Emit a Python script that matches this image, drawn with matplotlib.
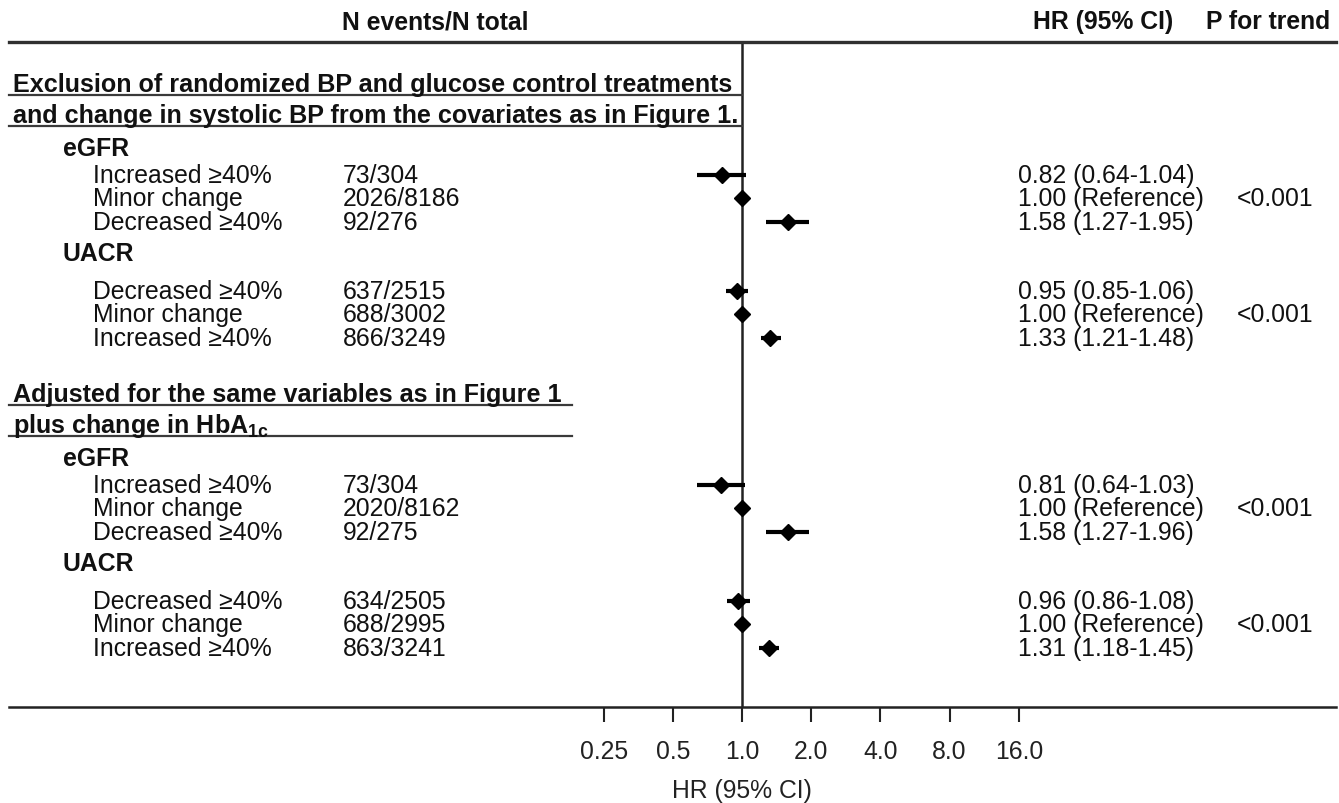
import matplotlib
matplotlib.use("Agg")
import matplotlib.pyplot as plt
from matplotlib.transforms import blended_transform_factory

plt.rcParams['font.family'] = ['Liberation Sans', 'DejaVu Sans']
plt.rcParams['mathtext.fontset'] = 'custom'
plt.rcParams['mathtext.rm'] = 'Liberation Sans'
plt.rcParams['mathtext.bf'] = 'Liberation Sans:bold'

# ---- data ----
section_titles = [
    ["Exclusion of randomized BP and glucose control treatments",
     "and change in systolic BP from the covariates as in Figure 1."],
    ["Adjusted for the same variables as in Figure 1",
     r"plus change in HbA$_{\mathbf{1c}}$"],
]
group_names = ["eGFR", "UACR"]
row_labels = [["Increased \u226540%", "Minor change", "Decreased \u226540%"],
              ["Decreased \u226540%", "Minor change", "Increased \u226540%"]]
counts = [
    [["73/304", "2026/8186", "92/276"], ["637/2515", "688/3002", "866/3249"]],
    [["73/304", "2020/8162", "92/275"], ["634/2505", "688/2995", "863/3241"]],
]
hr = [
    [[0.82, 1.00, 1.58], [0.95, 1.00, 1.33]],
    [[0.81, 1.00, 1.58], [0.96, 1.00, 1.31]],
]
ci_lo = [
    [[0.64, None, 1.27], [0.85, None, 1.21]],
    [[0.64, None, 1.27], [0.86, None, 1.18]],
]
ci_hi = [
    [[1.04, None, 1.95], [1.06, None, 1.48]],
    [[1.03, None, 1.96], [1.08, None, 1.45]],
]
p_trend = [["<0.001", "<0.001"], ["<0.001", "<0.001"]]
xticks = [0.25, 0.5, 1.0, 2.0, 4.0, 8.0, 16.0]
xtick_labels = ["0.25", "0.5", "1.0", "2.0", "4.0", "8.0", "16.0"]

# ---- layout (pixels from top-left) ----
W, H = 1339, 804
block_top = [83, 393]
underline_end = [742, 572]
title_dy = [0, 31]
group_dy = [64, 169]
first_row_dy = [91, 207]
row_step = 23.3
px_per_doubling = 69.2
x_ref = 742
fs = 17.8
ink = '#111111'

fig = plt.figure(figsize=(W / 100, H / 100), dpi=100)
ax = fig.add_axes([9 / W, 1 - 708 / H, (1336 - 9) / W, (708 - 43) / H])
ax.set_xscale('log', base=2)
ax.set_xlim(2 ** ((9 - x_ref) / px_per_doubling), 2 ** ((1336 - x_ref) / px_per_doubling))
ax.set_ylim(708, 43)
for s in ['left', 'right']:
    ax.spines[s].set_visible(False)
ax.spines['top'].set_linewidth(2.4)
ax.spines['top'].set_color('#303030')
ax.spines['bottom'].set_linewidth(1.8)
ax.spines['bottom'].set_color('#222222')
ax.set_yticks([])
ax.set_xticks(xticks)
ax.set_xticklabels(xtick_labels)
ax.xaxis.set_minor_locator(matplotlib.ticker.NullLocator())
ax.tick_params(axis='x', direction='out', length=11, width=1.5, pad=12,
               labelsize=fs, colors='#222222')
ax.axvline(1.0, color='#222222', lw=1.8)

tr = blended_transform_factory(fig.transFigure, ax.transData)

def txt(x, y, s, **kw):
    # y is the vertical centre of the capitals, in pixels from the top
    kw.setdefault('color', ink)
    ax.text(x / W, y + 9, s, transform=tr, va='baseline', **kw)

# headers
txt(435, 20, "N events/N total", ha='center', fontsize=fs, fontweight='bold')
txt(1033, 20, "HR (95% CI)", ha='left', fontsize=fs, fontweight='bold')
txt(1330, 20, "P for trend", ha='right', fontsize=fs, fontweight='bold')

for b in range(2):
    y0 = block_top[b]
    for k, line in enumerate(section_titles[b]):
        yy = y0 + title_dy[k]
        txt(13, yy, line, ha='left', fontsize=18.1, fontweight='bold')
        ax.plot([9 / W, underline_end[b] / W], [yy + 12.5, yy + 12.5], transform=tr,
                color='#3a3a3a', lw=1.6, clip_on=False)
    for g in range(2):
        txt(63, y0 + group_dy[g], group_names[g], ha='left', fontsize=fs, fontweight='bold')
        for r in range(3):
            yy = y0 + first_row_dy[g] + r * row_step
            txt(93, yy, row_labels[g][r], ha='left', fontsize=fs)
            txt(343, yy, counts[b][g][r], ha='left', fontsize=fs)
            h, lo, hi = hr[b][g][r], ci_lo[b][g][r], ci_hi[b][g][r]
            if lo is None:
                s = "%.2f (Reference)" % h
            else:
                s = "%.2f (%.2f-%.2f)" % (h, lo, hi)
                ax.plot([lo, hi], [yy + 2, yy + 2], color='black', lw=3,
                        solid_capstyle='butt')
            ax.plot([h], [yy + 2], marker='D', color='black', markersize=8.5)
            txt(1018, yy, s, ha='left', fontsize=fs)
            if r == 1:
                txt(1237, yy, p_trend[b][g], ha='left', fontsize=fs)

ax.text(1.0, 789 + 9, "HR (95% CI)", ha='center', va='baseline', fontsize=fs, color='#222222')

fig.savefig("out.png", dpi=100)
